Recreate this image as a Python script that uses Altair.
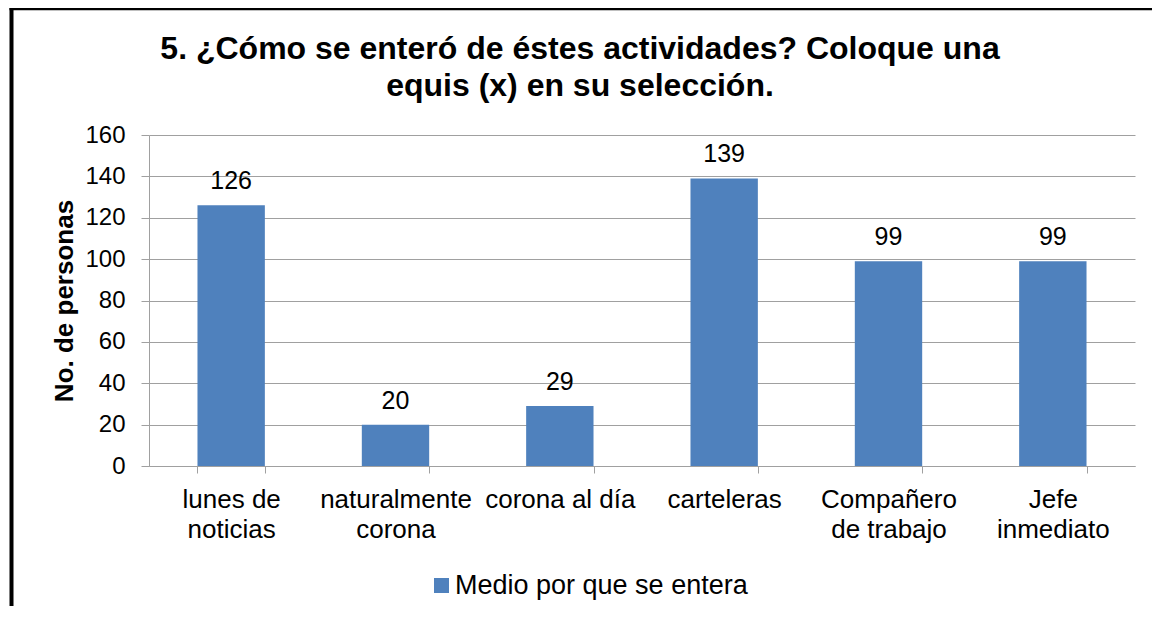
import altair as alt
import pandas as pd

categories = ["lunes de\nnoticias", "naturalmente\ncorona", "corona al día",
              "carteleras", "Compañero\nde trabajo", "Jefe\ninmediato"]
values = [126, 20, 29, 139, 99, 99]
series_name = "Medio por que se entera"
y_ticks = [0, 20, 40, 60, 80, 100, 120, 140, 160]
title_lines = ["5. ¿Cómo se enteró de éstes actividades? Coloque una",
               "equis (x) en su selección."]
y_title = "No. de personas"

df = pd.DataFrame({"cat": categories, "val": values, "serie": [series_name] * len(values)})

FONT = "Liberation Sans"
BLUE = "#4F81BD"
GRID = "#A0A0A0"

x_enc = alt.X(
    "cat:N", sort=None, title=None,
    scale=alt.Scale(paddingInner=0.59, paddingOuter=0.295),
    axis=alt.Axis(
        labelExpr="split(datum.label, '\\n')",
        labelFontSize=26, labelColor="black", labelLineHeight=30,
        labelAngle=0, labelBaseline="top", labelPadding=13, labelLimit=0,
        labelOverlap=False,
        tickBand="extent", tickSize=7, tickColor=GRID, domainColor=GRID,
        grid=False,
    ),
)
y_enc = alt.Y(
    "val:Q", title=y_title,
    scale=alt.Scale(domain=[0, 160], nice=False),
    axis=alt.Axis(
        values=y_ticks, labelFontSize=24, labelColor="black", labelPadding=16,
        tickSize=8, tickColor=GRID, domainColor=GRID, gridColor=GRID,
        titleFontSize=26, titleFontWeight="bold", titleColor="black",
        titleX=-77, titleBaseline="alphabetic",
    ),
)

bars = alt.Chart(df).mark_bar(color=BLUE).encode(
    x=x_enc, y=y_enc,
    color=alt.Color(
        "serie:N", scale=alt.Scale(range=[BLUE]),
        legend=alt.Legend(
            title=None, orient="none", legendX=279, legendY=437,
            symbolType="square", symbolSize=225, symbolStrokeWidth=0,
            labelFontSize=27, labelColor="black", labelOffset=0, padding=0,
            labelLimit=0,
        ),
    ),
)

labels = alt.Chart(df).mark_text(
    fontSize=25, color="black", baseline="alphabetic", dy=-16
).encode(x=alt.X("cat:N", sort=None), y="val:Q", text="val:Q")

one = pd.DataFrame({"k": [0]})
title1 = alt.Chart(one).mark_text(
    fontSize=32, fontWeight="bold", color="black", align="center", baseline="alphabetic"
).encode(x=alt.value(431), y=alt.value(-76), text=alt.value(title_lines[0]))
title2 = alt.Chart(one).mark_text(
    fontSize=32, fontWeight="bold", color="black", align="center", baseline="alphabetic"
).encode(x=alt.value(431), y=alt.value(-39), text=alt.value(title_lines[1]))

left_line = alt.Chart(one).mark_rule(color="black", strokeWidth=4).encode(
    x=alt.value(-137.5), y=alt.value(-130), y2=alt.value(1000)
)
top_line = alt.Chart(one).mark_rule(color="black", strokeWidth=3.5).encode(
    x=alt.value(-139.5), x2=alt.value(1200), y=alt.value(-126.5)
)

chart = alt.layer(bars, labels, title1, title2, left_line, top_line).properties(
    width=986, height=331,
    autosize=alt.AutoSizeParams(type="none"),
    padding={"left": 141, "top": 127, "right": 17, "bottom": 140},
    background="white",
).configure(font=FONT).configure_view(stroke=None)

chart.save("out.html", embed_options={"renderer": "svg", "actions": False})
